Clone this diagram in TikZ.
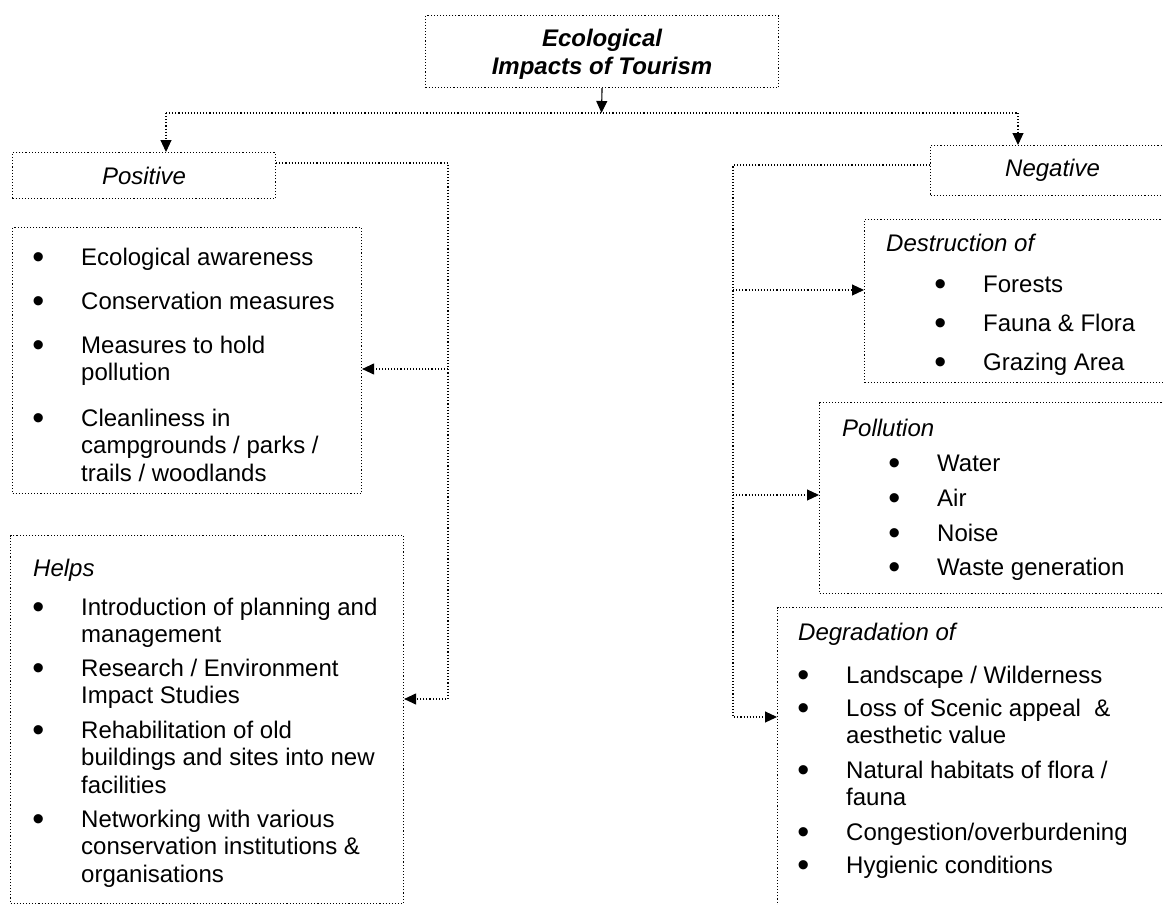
\documentclass[tikz,border=0pt]{standalone}
\usepackage{fontspec}
\setmainfont{Liberation Sans}
\usetikzlibrary{arrows.meta}
\newcommand{\bulitem}[1]{\llap{\raisebox{-3.5pt}{\fontsize{34}{34}\selectfont\textbullet}\hspace{37pt}}\begin{tabular}[t]{@{}l@{}}#1\end{tabular}}

\begin{document}
\begin{tikzpicture}
[
    x=1pt, y=-1pt,
    every node/.style={font=\fontsize{24}{27.5}\selectfont, inner sep=0pt},
    head/.style={font=\fontsize{24}{27.5}\selectfont\itshape},
    box/.style={draw, dotted, line width=1.1pt, rectangle, anchor=north west},
    txt/.style={anchor=base west},
    line/.style={dotted, line width=1.1pt},
    conn/.style={line, -{Triangle[length=12pt,width=11pt]}},
]
\path[use as bounding box, clip] (0,0) rectangle (1163,905);

% boxes
\node[box, minimum width=353pt, minimum height=72pt, align=center,
      font=\fontsize{24}{28}\selectfont\bfseries\itshape] (title) at (425,15)
{\rule{0pt}{23.5pt}Ecological\\Impacts of Tourism};
\node[box, head, minimum width=263pt, minimum height=46pt] (pos) at (12,152) {Positive};
\node[box, head, minimum width=244pt, minimum height=50pt] (neg) at (930,145) {Negative};
\node[box, minimum width=349pt, minimum height=266pt] (box1) at (12,227) {};
\node[box, minimum width=393pt, minimum height=368pt] (helps) at (10,535) {};
\node[box, minimum width=330pt, minimum height=163pt] (destr) at (864,219) {};
\node[box, minimum width=370pt, minimum height=191pt] (pollu) at (819,402) {};
\node[box, minimum width=410pt, minimum height=343pt] (degra) at (777,607) {};

% positive texts
\node[txt] (aware) at (81,265) {\bulitem{Ecological awareness}};
\node[txt] (consv) at (81,309) {\bulitem{Conservation measures}};
\node[txt] (hold) at (81,353) {\bulitem{Measures to hold\\pollution}};
\node[txt] (clean) at (81,426) {\bulitem{Cleanliness in\\campgrounds / parks /\\trails / woodlands}};
\node[txt, head] (helpshd) at (33,576) {Helps};
\node[txt] (intro) at (81,615) {\bulitem{Introduction of planning and\\management}};
\node[txt] (resch) at (81,676) {\bulitem{Research / Environment\\Impact Studies}};
\node[txt] (rehab) at (81,738) {\bulitem{Rehabilitation of old\\buildings and sites into new\\facilities}};
\node[txt] (netw) at (81,827) {\bulitem{Networking with various\\conservation institutions \&\\organisations}};

% negative texts
\node[txt, head] (destrhd) at (886,251) {Destruction of};
\node[txt] (forest) at (983,292) {\bulitem{Forests}};
\node[txt] (fauna) at (983,331) {\bulitem{Fauna \& Flora}};
\node[txt] (graze) at (983,370) {\bulitem{Grazing Area}};
\node[txt, head] (polluhd) at (842,436) {Pollution};
\node[txt] (water) at (937,471) {\bulitem{Water}};
\node[txt] (air) at (937,506) {\bulitem{Air}};
\node[txt] (noise) at (937,541) {\bulitem{Noise}};
\node[txt] (waste) at (937,575) {\bulitem{Waste generation}};
\node[txt, head] (degrahd) at (798,640) {Degradation of};
\node[txt] (land) at (846,683) {\bulitem{Landscape / Wilderness}};
\node[txt] (scenic) at (846,716) {\bulitem{Loss of Scenic appeal \ \&\\aesthetic value}};
\node[txt] (habit) at (846,778) {\bulitem{Natural habitats of flora /\\fauna}};
\node[txt] (cong) at (846,840) {\bulitem{Congestion/overburdening}};
\node[txt] (hyg) at (846,873) {\bulitem{Hygienic conditions}};

% connectors
\coordinate (split) at (601.5,113);
\coordinate (posin) at (166,113);
\coordinate (negin) at (1018,113);
\coordinate (lbus) at (448,163);
\coordinate (rbus) at (733,165);
\coordinate (box1in) at ([yshift=-142pt]box1.north east);
\coordinate (helpsin) at ([yshift=-164pt]helps.north east);
\coordinate (destrin) at ([yshift=-71pt]destr.north west);
\coordinate (polluin) at ([yshift=-93pt]pollu.north west);
\coordinate (degrain) at ([yshift=-110pt]degra.north west);

\draw[conn, solid] (title.south) -- (split);
\draw[line] (posin) -- (negin);
\draw[conn] (posin) -- (posin |- pos.north);
\draw[conn] (negin) -- (negin |- neg.north);

\draw[conn] (pos.east |- lbus) -- (lbus) |- (helpsin);
\draw[conn] (lbus |- box1in) -- (box1in);

\draw[conn] (neg.west |- rbus) -- (rbus) |- (degrain);
\draw[conn] (rbus |- destrin) -- (destrin);
\draw[conn] (rbus |- polluin) -- (polluin);
\end{tikzpicture}
\end{document}
